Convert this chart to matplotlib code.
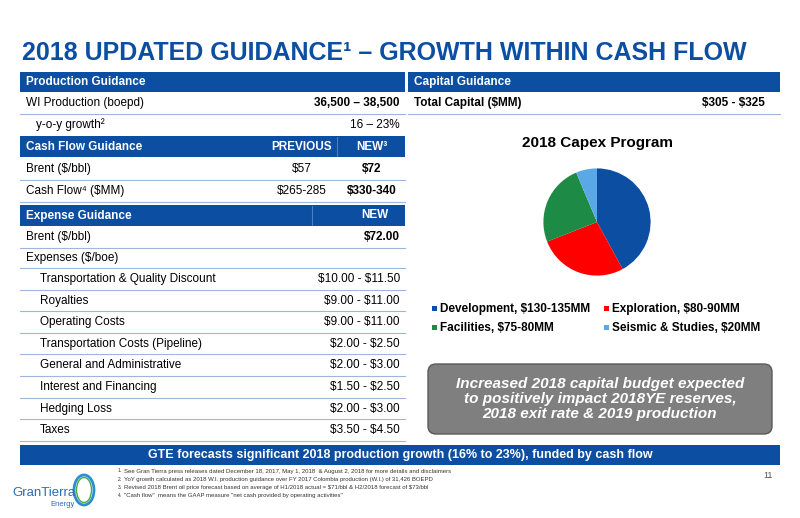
import matplotlib.pyplot as plt
from matplotlib.patches import Rectangle, FancyBboxPatch, Ellipse

plt.rcParams['font.family'] = ['Liberation Sans', 'DejaVu Sans']

BLUE = '#0b4ea2'
LINE = '#9db7dc'

# pie data (midpoints of guidance ranges, $MM)
capex_labels = ['Development, $130-135MM', 'Exploration, $80-90MM',
                'Facilities, $75-80MM', 'Seismic & Studies, $20MM']
capex_values = [132.5, 85, 77.5, 20]
capex_colors = ['#0b4ea2', '#fe0000', '#1d8a46', '#5aa9e6']

expense_items = ['Transportation & Quality Discount', 'Royalties', 'Operating Costs',
                 'Transportation Costs (Pipeline)', 'General and Administrative',
                 'Interest and Financing', 'Hedging Loss', 'Taxes']
expense_ranges = ['$10.00 - $11.50', '$9.00 - $11.00', '$9.00 - $11.00', '$2.00 - $2.50',
                  '$2.00 - $3.00', '$1.50 - $2.50', '$2.00 - $3.00', '$3.50 - $4.50']

footnotes = [
    'See Gran Tierra press releases dated December 18, 2017, May 1, 2018  & August 2, 2018 for more details and disclaimers',
    'YoY growth calculated as 2018 W.I. production guidance over FY 2017 Colombia production (W.I.) of 31,426 BOEPD',
    'Revised 2018 Brent oil price forecast based on average of H1/2018 actual = $71/bbl & H2/2018 forecast of $73/bbl',
    '"Cash flow"  means the GAAP measure "net cash provided by operating activities"',
]

fig = plt.figure(figsize=(8, 5.18), dpi=100)
ax = fig.add_axes([0, 0, 1, 1])
ax.set_xlim(0, 800)
ax.set_ylim(518, 0)
ax.axis('off')


def t(x, y, s, **kw):
    kw.setdefault('fontsize', 8.5)
    kw.setdefault('va', 'center')
    return ax.text(x, y, s.replace('$', r'\$'), **kw)


t(22, 60, '2018 UPDATED GUIDANCE¹ – GROWTH WITHIN CASH FLOW', color=BLUE,
  fontsize=18, fontweight='bold', va='baseline')


def header(x0, x1, y0, y1, text):
    ax.add_patch(Rectangle((x0, y0), x1 - x0, y1 - y0, color=BLUE, lw=0))
    t(x0 + 6, (y0 + y1) / 2, text, color='white', fontweight='bold')


def sep(x0, x1, y):
    ax.plot([x0, x1], [y, y], color=LINE, lw=0.8)


L0, L1 = 20, 405
R0, R1 = 408, 780

# production
header(L0, L1, 72, 92, 'Production Guidance')
t(26, 103, 'WI Production (boepd)')
t(400, 103, '36,500 – 38,500', ha='right', fontweight='bold')
sep(L0, L1, 114)
t(36, 125, 'y-o-y growth²')
t(400, 125, '16 – 23%', ha='right')

# cash flow
header(L0, L1, 136, 157, 'Cash Flow Guidance')
ax.plot([337, 337], [137, 156], color='#4d7cc0', lw=0.8)
t(302, 146.5, 'PREVIOUS', color='white', fontweight='bold', ha='center')
t(372, 146.5, 'NEW³', color='white', fontweight='bold', ha='center')
t(26, 169, 'Brent ($/bbl)')
t(302, 169, '$57', ha='center')
t(372, 169, '$72', ha='center', fontweight='bold')
sep(L0, L1, 180)
t(26, 191, 'Cash Flow⁴ ($MM)')
t(302, 191, '$265-285', ha='center')
t(372, 191, '$330-340', ha='center', fontweight='bold')
sep(L0, L1, 202)

# expenses
header(L0, L1, 205, 226, 'Expense Guidance')
ax.plot([312, 312], [206, 225], color='#4d7cc0', lw=0.8)
t(388, 215.5, 'NEW', color='white', fontweight='bold', ha='right')
t(26, 237, 'Brent ($/bbl)')
t(400, 237, '$72.00', ha='right', fontweight='bold')
sep(L0, L1, 248)
t(26, 258, 'Expenses ($/boe)')
sep(L0, L1, 268)
y = 268
for item, rng in zip(expense_items, expense_ranges):
    t(40, y + 11, item)
    t(400, y + 11, rng, ha='right')
    y += 21.6
    sep(L0, L1, y)

# capital guidance
header(R0, R1, 72, 92, 'Capital Guidance')
t(414, 103, 'Total Capital ($MM)', fontweight='bold')
t(765, 103, '$305 - $325', ha='right', fontweight='bold')
sep(R0, R1, 114)
t(597, 143, '2018 Capex Program', fontsize=11, fontweight='bold', ha='center')

pax = fig.add_axes([530 / 800, 1 - 289 / 518, 134 / 800, 134 / 518])
pax.pie(capex_values, colors=capex_colors, startangle=90, counterclock=False)
pax.set_aspect('equal')

for i, (lab, col) in enumerate(zip(capex_labels, capex_colors)):
    lx = 432 if i % 2 == 0 else 604
    ly = 309 if i < 2 else 328
    ax.add_patch(Rectangle((lx, ly - 3), 5, 5, color=col, lw=0))
    t(lx + 8, ly, lab, fontsize=8.5, fontweight='bold')

# callout
ax.add_patch(FancyBboxPatch((428, 364), 344, 70, boxstyle='round,pad=0,rounding_size=8',
                            facecolor='#7f7f7f', edgecolor='#5a5a5a', lw=1))
t(600, 399, 'Increased 2018 capital budget expected\nto positively impact 2018YE reserves,\n2018 exit rate & 2019 production',
  color='white', fontsize=11, fontweight='bold', style='italic', ha='center', linespacing=1.1)

# banner
ax.add_patch(Rectangle((20, 445), 760, 20, color=BLUE, lw=0))
t(400, 455, 'GTE forecasts significant 2018 production growth (16% to 23%), funded by cash flow',
  color='white', fontsize=9, fontweight='bold', ha='center')

for i, fn in enumerate(footnotes):
    t(118, 471 + i * 8.2, f'{i + 1}.', fontsize=3.5, color='#333333')
    t(124, 471 + i * 8.2, fn, fontsize=4.3, color='#333333')
t(773, 476, '11', fontsize=6.5, ha='right', color='#555555')

# logo
t(12, 493, 'GranTierra', fontsize=9.5, color='#2a6db5')
t(50, 505, 'Energy', fontsize=5.5, color='#2a6db5')
ax.add_patch(Ellipse((84, 490), 20, 30, fill=False, edgecolor='#2a8fd0', lw=2))
ax.add_patch(Ellipse((84, 490), 15, 25, fill=False, edgecolor='#4aa84a', lw=1))

fig.savefig('out.png', dpi=100)
